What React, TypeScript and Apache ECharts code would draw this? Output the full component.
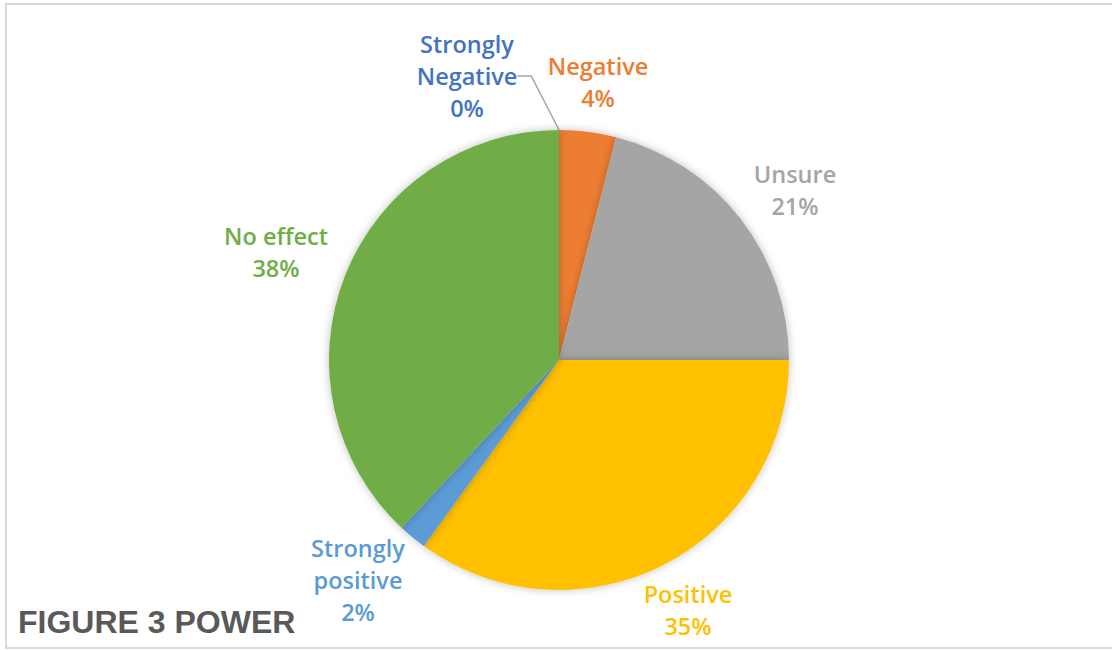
import React, { useEffect, useRef } from "react";
import * as echarts from "echarts";

// Survey answers about the effect on power, in percent
const categories = [
  "Strongly\nNegative",
  "Negative",
  "Unsure",
  "Positive",
  "Strongly\npositive",
  "No effect",
];
const shares = [0, 4, 21, 35, 2, 38];
const sliceColors = ["#4472C4", "#ED7D31", "#A5A5A5", "#FFC000", "#5B9BD5", "#70AD47"];

// Where each label block is centred on the canvas
const labelAnchors: [number, number][] = [
  [467, 76],
  [598, 82],
  [795, 190],
  [688, 610],
  [358, 580],
  [276, 252],
];

export default function App() {
  const ref = useRef<HTMLDivElement>(null);

  useEffect(() => {
    if (!ref.current) return;
    const chart = echarts.init(ref.current, undefined, { renderer: "svg" });
    chart.setOption({
      animation: false,
      backgroundColor: "#ffffff",
      graphic: [
        {
          type: "rect",
          shape: { x: 6, y: 4, width: 1140, height: 644 },
          style: { fill: "none", stroke: "#d9d9d9", lineWidth: 2 },
          silent: true,
          z: -1,
        },
        {
          type: "text",
          left: 18,
          top: 606,
          style: {
            text: "FIGURE 3 POWER",
            fill: "#595959",
            font: "bold 32px 'Liberation Sans', Arial, sans-serif",
          },
        },
      ],
      series: [
        {
          type: "pie",
          center: [559, 360],
          radius: 230,
          startAngle: 90,
          clockwise: true,
          avoidLabelOverlap: false,
          itemStyle: {
            shadowBlur: 8,
            shadowColor: "rgba(0,0,0,0.25)",
          },
          label: {
            show: true,
            position: "outside",
            formatter: "{b}\n{d}%",
            fontFamily: "'Open Sans', sans-serif",
            fontWeight: 600,
            fontSize: 23.5,
            lineHeight: 32,
            align: "center",
          },
          labelLine: { show: false },
          labelLayout: (params: any) => {
            const a = labelAnchors[params.dataIndex];
            return { x: a[0], y: a[1], align: "center", verticalAlign: "middle" };
          },
          data: categories.map((name, i) => ({
            name,
            value: shares[i],
            itemStyle: { color: sliceColors[i] },
            label: { color: sliceColors[i] },
            labelLine:
              i === 0
                ? { show: true, length: 10, length2: 14, lineStyle: { color: "#A5A5A5", width: 1.5 } }
                : { show: false },
          })),
        },
      ],
    });
    return () => chart.dispose();
  }, []);

  return (
    <div
      ref={ref}
      style={{ position: "absolute", left: 0, top: 0, width: 1112, height: 650 }}
    />
  );
}
